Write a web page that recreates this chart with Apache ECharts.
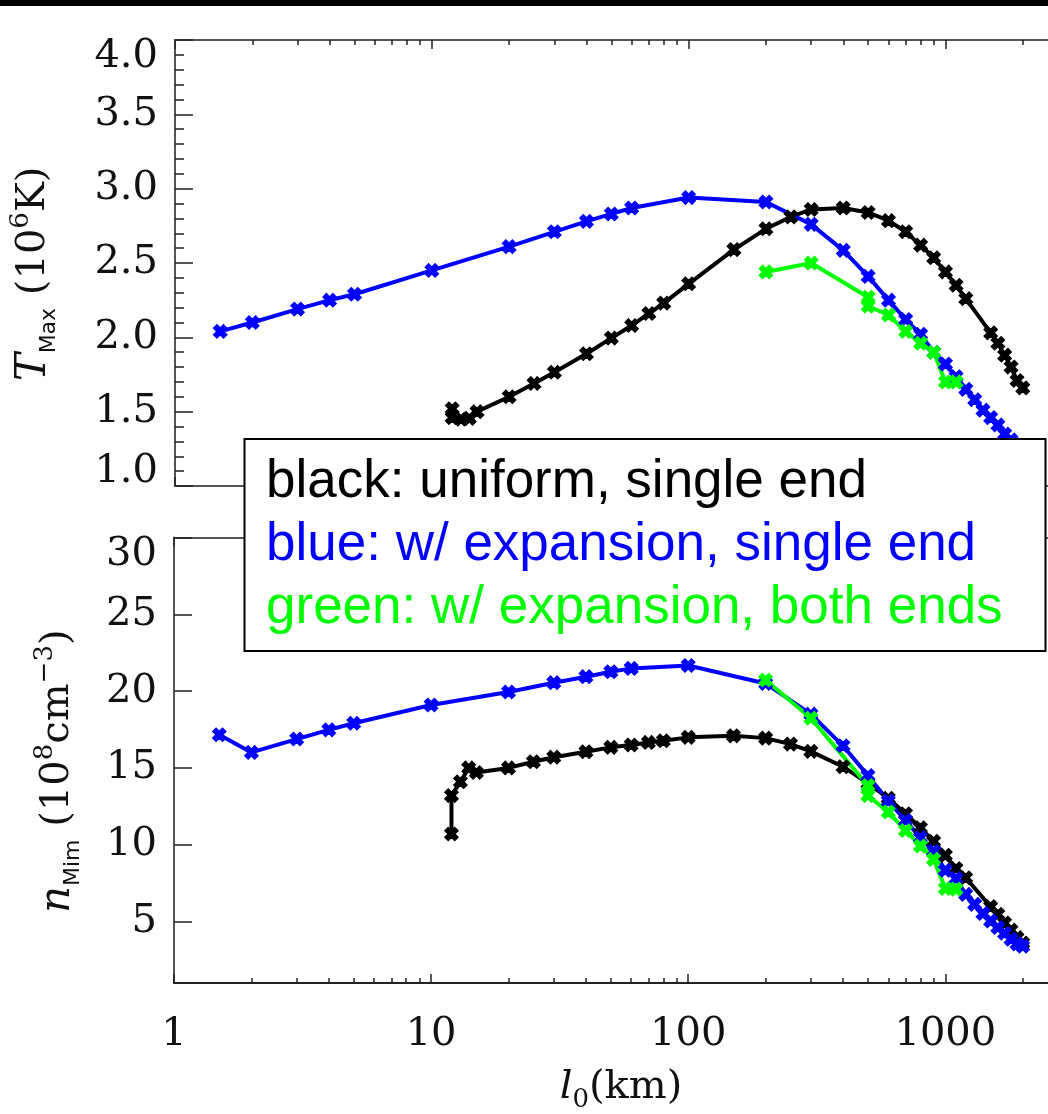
<!DOCTYPE html>
<html>
<head>
<meta charset="utf-8">
<script src="https://cdn.jsdelivr.net/npm/echarts@6/dist/echarts.min.js"></script>
<style>
html,body{margin:0;padding:0;overflow:hidden;background:#fff;}
#chart{width:1100px;height:1114px;}
</style>
</head>
<body>
<div id="chart"></div>
<script>
// ---- data ----
const blackX = [12,12,13,14,15,20,25,30,40,50,60,70,80,100,150,200,250,300,400,500,600,700,800,900,1000,1100,1200,1500,1600,1700,1800,1900,2000];
const blackT = [1.52,1.46,1.45,1.455,1.50,1.60,1.69,1.765,1.89,1.995,2.08,2.16,2.23,2.36,2.59,2.73,2.81,2.86,2.87,2.84,2.785,2.71,2.62,2.535,2.44,2.35,2.26,2.03,1.96,1.88,1.80,1.71,1.66];
const blackN = [10.7,13.2,14.1,15.0,14.7,15.0,15.4,15.7,16.05,16.34,16.49,16.66,16.77,16.99,17.09,16.94,16.55,16.08,15.08,14.0,13.03,12.02,11.11,10.22,9.31,8.45,7.85,5.97,5.47,4.9,4.45,3.95,3.6];

const blueX = [1.5,2,3,4,5,10,20,30,40,50,60,100,200,300,400,500,600,700,800,900,1000,1100,1200,1300,1400,1500,1600,1700,1800,1900,2000];
const blueT = [2.04,2.10,2.19,2.25,2.29,2.45,2.61,2.71,2.78,2.83,2.87,2.94,2.91,2.76,2.585,2.41,2.25,2.12,2.02,1.90,1.82,1.735,1.65,1.58,1.51,1.46,1.41,1.35,1.31,1.27,1.23];
const blueN = [17.16,16.01,16.88,17.48,17.91,19.1,19.94,20.55,20.94,21.26,21.48,21.67,20.5,18.5,16.44,14.5,12.84,11.58,10.46,9.57,8.34,7.8,6.77,6.12,5.53,5.04,4.61,4.24,3.85,3.55,3.4];

const greenX = [200,300,500,500,600,700,800,900,1000,1100];
const greenT = [2.44,2.50,2.27,2.21,2.15,2.04,1.96,1.90,1.70,1.70];
const greenN = [20.72,18.24,13.85,13.2,12.13,10.93,9.92,9.05,7.15,7.11];

const xMajorTicks = [1,10,100,1000];
const xMinorTicks = [2,3,4,5,6,7,8,9,20,30,40,50,60,70,80,90,200,300,400,500,600,700,800,900,2000,3000];
const nMajorTicks = [5,10,15,20,25,30];
const nMinorTicks = [2,3,4,6,7,8,9,11,12,13,14,16,17,18,19,21,22,23,24,26,27,28,29];

const legendLines = [
  {text:'black: uniform, single end', color:'#000000'},
  {text:'blue: w/ expansion, single end', color:'#0000ff'},
  {text:'green: w/ expansion, both ends', color:'#00ff00'}
];

// ---- helpers ----
const zip = (xs, ys) => xs.map((x, i) => [x, ys[i]]);
const AX = '#555';
const serif = 'DejaVu Serif';
const markerPath = 'path://M0,3 L3,0 L6,3 L9,0 L12,3 L9,6 L12,9 L9,12 L6,9 L3,12 L0,9 L3,6 Z';

function xAxes(grid, withLabels) {
  const base = {gridIndex: grid, type: 'log', logBase: 10, min: 1, max: 3000, splitLine: {show: false}};
  return [
    Object.assign({}, base, {
      position: 'bottom',
      axisLine: {show: true, lineStyle: {color: grid === 1 ? '#222' : AX, width: 2}},
      axisTick: {show: true, inside: true, length: 9, customValues: xMajorTicks, lineStyle: {color: '#222', width: 1.5}},
      axisLabel: withLabels ? {show: true, customValues: xMajorTicks, margin: 32, fontFamily: serif, fontSize: 40, color: '#111',
        formatter: v => String(Math.round(v))} : {show: false},
      name: withLabels ? '{it|l}{sub|0}{n|(km)}' : '',
      nameLocation: 'middle', nameGap: 80,
      nameTextStyle: {rich: {
        it: {fontFamily: serif, fontStyle: 'italic', fontSize: 40, lineHeight: 50, color: '#111'},
        sub: {fontFamily: serif, fontSize: 26, lineHeight: 26, verticalAlign: 'bottom', color: '#111'},
        n: {fontFamily: serif, fontSize: 40, lineHeight: 50, color: '#111'}
      }}
    }),
    Object.assign({}, base, {
      position: 'bottom', axisLine: {show: false},
      axisTick: {show: true, inside: true, length: 5, customValues: xMinorTicks, lineStyle: {color: '#222', width: 1.5}},
      axisLabel: {show: false}
    }),
    Object.assign({}, base, {
      position: 'top',
      axisLine: {show: true, lineStyle: {color: AX, width: 2}},
      axisTick: {show: true, inside: true, length: 9, customValues: xMajorTicks, lineStyle: {color: '#222', width: 1.5}},
      axisLabel: {show: false}
    }),
    Object.assign({}, base, {
      position: 'top', axisLine: {show: false},
      axisTick: {show: true, inside: true, length: 5, customValues: xMinorTicks, lineStyle: {color: '#222', width: 1.5}},
      axisLabel: {show: false}
    })
  ];
}

const yRich = {
  v: {fontFamily: serif, fontSize: 40, color: '#111'},
  dn: {fontFamily: serif, fontSize: 40, color: '#111', padding: [34, 0, 0, 0]},
  up: {fontFamily: serif, fontSize: 40, color: '#111', padding: [0, 0, 28, 0]}
};

function line(name, xi, yi, xs, ys, color) {
  return {
    name: name, type: 'line', xAxisIndex: xi, yAxisIndex: yi,
    data: zip(xs, ys),
    symbol: markerPath, symbolSize: 13,
    itemStyle: {color: color, borderColor: color, borderWidth: 1.5},
    lineStyle: {color: color, width: 4},
    emphasis: {disabled: true}, animation: false, z: 3
  };
}

const nameRich = {
  it: {fontFamily: serif, fontStyle: 'italic', fontSize: 42, lineHeight: 52, color: '#111'},
  sub: {fontFamily: 'DejaVu Sans', fontSize: 22, lineHeight: 22, verticalAlign: 'bottom', color: '#111'},
  sup: {fontFamily: serif, fontSize: 26, lineHeight: 26, verticalAlign: 'top', color: '#111'},
  n: {fontFamily: serif, fontSize: 40, lineHeight: 52, color: '#111'}
};

const option = {
  backgroundColor: '#ffffff',
  animation: false,
  grid: [
    {left: 174, top: 40, width: 894, height: 446},
    {left: 174, top: 537.5, width: 894, height: 447.5}
  ],
  xAxis: xAxes(0, false).concat(xAxes(1, true)),
  yAxis: [
    {
      gridIndex: 0, type: 'value', min: 1, max: 4, interval: 0.5,
      axisLine: {show: true, lineStyle: {color: AX, width: 2}},
      axisTick: {show: true, inside: true, length: 18, lineStyle: {color: '#222', width: 1.5}},
      minorTick: {show: true, splitNumber: 5, length: 9, lineStyle: {color: '#222', width: 1.5}},
      splitLine: {show: false}, minorSplitLine: {show: false},
      axisLabel: {margin: 17, rich: yRich,
        formatter: v => (v >= 4 ? '{dn|' : v <= 1 ? '{up|' : '{v|') + v.toFixed(1) + '}'},
      name: '{it|T}{sub|Max}{n| (10}{sup|6}{n|K)}',
      nameLocation: 'middle', nameRotate: 90, nameGap: 115,
      nameTextStyle: {rich: nameRich, padding: [0, 22, 0, 0]}
    },
    {
      gridIndex: 1, type: 'value', min: 1, max: 30,
      axisLine: {show: true, lineStyle: {color: AX, width: 2}},
      axisTick: {show: true, inside: true, length: 18, customValues: nMajorTicks, lineStyle: {color: '#222', width: 1.5}},
      splitLine: {show: false},
      axisLabel: {margin: 17, rich: yRich, customValues: nMajorTicks,
        formatter: v => (v >= 30 ? '{dn|' : '{v|') + String(Math.round(v)) + '}'},
      name: '{it|n}{sub|Mim}{n| (10}{sup|8}{n|cm}{sup|−3}{n|)}',
      nameLocation: 'middle', nameRotate: 90, nameGap: 90,
      nameTextStyle: {rich: nameRich, padding: [0, 22, 0, 0]}
    },
    {
      gridIndex: 1, type: 'value', min: 1, max: 30,
      axisLine: {show: false},
      axisTick: {show: true, inside: true, length: 9, customValues: nMinorTicks, lineStyle: {color: '#222', width: 1.5}},
      splitLine: {show: false},
      axisLabel: {show: false}
    }
  ],
  series: [
    line('black T', 0, 0, blackX, blackT, '#000000'),
    line('blue T', 0, 0, blueX, blueT, '#0000ff'),
    line('green T', 0, 0, greenX, greenT, '#00ff00'),
    line('black n', 4, 1, blackX, blackN, '#000000'),
    line('blue n', 4, 1, blueX, blueN, '#0000ff'),
    line('green n', 4, 1, greenX, greenN, '#00ff00')
  ],
  graphic: [
    {type: 'rect', left: 0, top: 0, shape: {x: 0, y: 0, width: 1100, height: 6}, style: {fill: '#000'}, z: 100},
    {type: 'rect', z: 100, shape: {x: 244.5, y: 439, width: 801, height: 212},
      style: {fill: '#fff', stroke: '#000', lineWidth: 2}},
  ].concat(legendLines.map((l, i) => ({
    type: 'text', z: 101, x: 266, y: 482 + i * 63,
    style: {text: l.text, fill: l.color, font: '53px "Liberation Sans", Arial, sans-serif', verticalAlign: 'middle', align: 'left'}
  })))
};

const chart = echarts.init(document.getElementById('chart'), null, {renderer: 'canvas'});
chart.setOption(option);
</script>
</body>
</html>
